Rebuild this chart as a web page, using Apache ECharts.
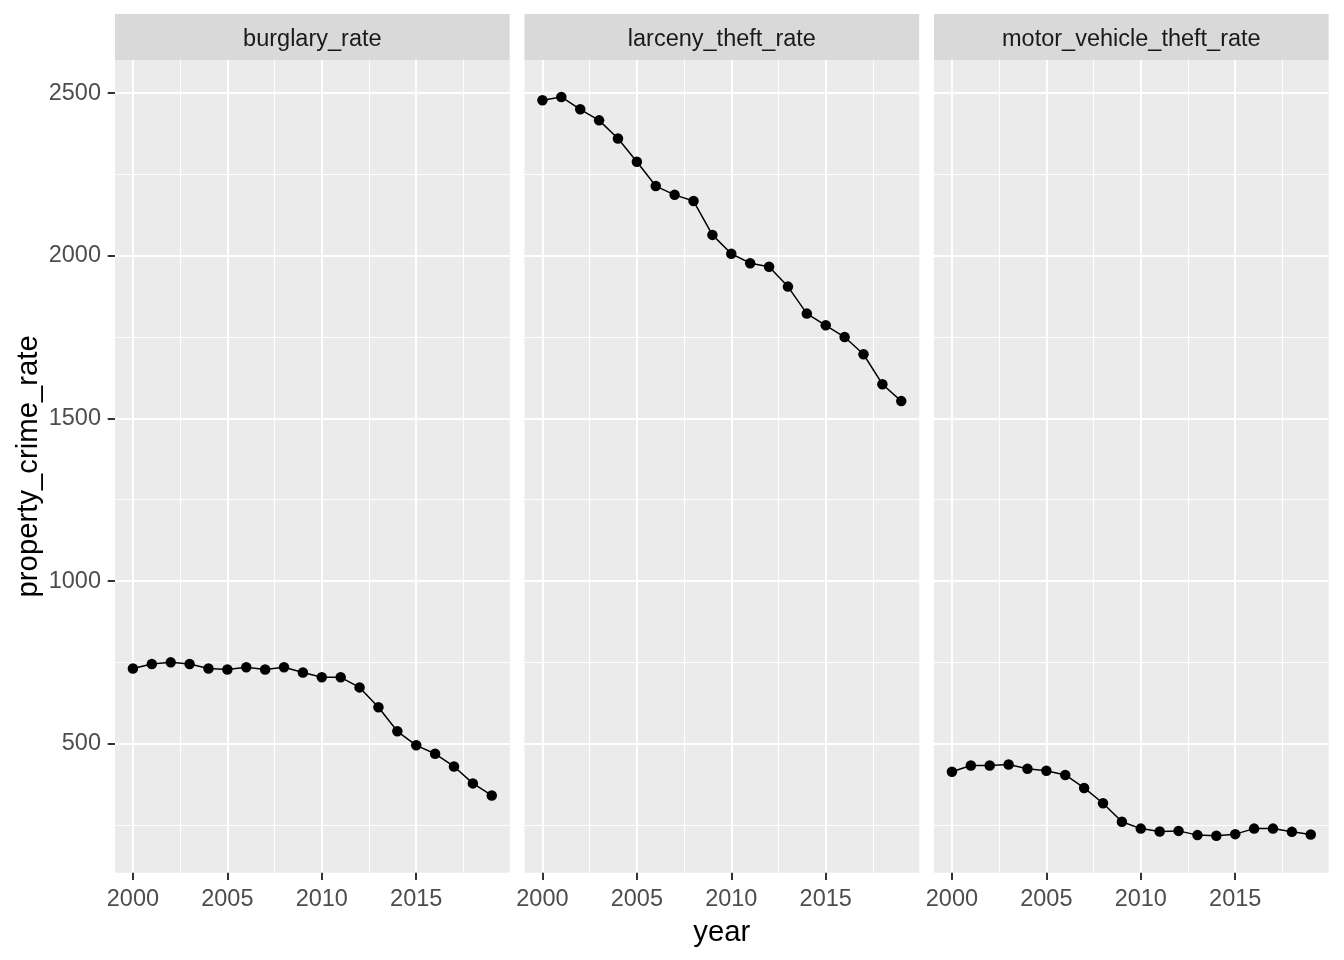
<!DOCTYPE html>
<html>
<head>
<meta charset="utf-8">
<script src="https://cdn.jsdelivr.net/npm/echarts@6/dist/echarts.min.js"></script>
<style>
  html, body { margin: 0; padding: 0; background: #fff; }
  #chart { width: 1344px; height: 960px; }
</style>
</head>
<body>
<div id="chart"></div>
<script>
// ---- data ----
const years = [2000, 2001, 2002, 2003, 2004, 2005, 2006, 2007, 2008, 2009,
               2010, 2011, 2012, 2013, 2014, 2015, 2016, 2017, 2018, 2019];
const burglaryRate = [731, 745, 750, 745, 731, 728, 735, 728, 735, 719,
                      704, 704, 673, 612, 538, 495, 469, 430, 378, 341];
const larcenyTheftRate = [2478, 2488, 2450, 2416, 2360, 2289, 2214, 2187, 2168, 2064,
                          2006, 1977, 1966, 1905, 1822, 1786, 1750, 1697, 1605, 1553];
const motorVehicleTheftRate = [414, 433, 433, 436, 423, 417, 404, 364, 317, 260,
                               239, 230, 232, 219, 217, 222, 239, 239, 229, 221];
const panelNames = ['burglary_rate', 'larceny_theft_rate', 'motor_vehicle_theft_rate'];
const xMajorTicks = [2000, 2005, 2010, 2015];
const xMinorTicks = [2002.5, 2007.5, 2012.5, 2017.5];
const yMajorTicks = [500, 1000, 1500, 2000, 2500];
const yMinorTicks = [250, 750, 1250, 1750, 2250];
const xTitle = 'year';
const yTitle = 'property_crime_rate';

// ---- layout / style ----
const FONT = 'Liberation Sans, Arial, sans-serif';
const panelValues = [burglaryRate, larcenyTheftRate, motorVehicleTheftRate];
const panelLefts = [115, 524.5, 934];
const panelWidth = 394.7;
const panelTop = 60;
const panelBottomFromEdge = 960 - 872.7;
const stripTop = 14, stripHeight = 46;

// ggplot-style 5% expansion computed from the data
const allVals = [].concat(...panelValues);
const yLo = Math.min(...allVals), yHi = Math.max(...allVals);
const yPad = (yHi - yLo) * 0.05;
const yMin = yLo - yPad, yMax = yHi + yPad;
const xLo = Math.min(...years), xHi = Math.max(...years);
const xPad = (xHi - xLo) * 0.05;
const xMin = xLo - xPad, xMax = xHi + xPad;

const grids = [], xAxes = [], yAxes = [], series = [], graphics = [];

panelValues.forEach((vals, i) => {
  grids.push({
    left: panelLefts[i], width: panelWidth, top: panelTop, bottom: panelBottomFromEdge,
    show: true, backgroundColor: '#EBEBEB', borderWidth: 0, containLabel: false
  });
  // major x axis
  xAxes.push({
    type: 'value', gridIndex: i, min: xMin, max: xMax,
    axisLine: { show: false },
    axisTick: { show: true, customValues: xMajorTicks, length: 7.3,
                lineStyle: { color: '#333333', width: 2 } },
    axisLabel: { show: true, customValues: xMajorTicks, formatter: v => String(v),
                 color: '#4D4D4D', fontSize: 23.5, fontFamily: FONT, margin: 15 },
    splitLine: { show: true, lineStyle: { color: '#FFFFFF', width: 2 } },
    name: i === 1 ? xTitle : '', nameLocation: 'middle', nameGap: 46,
    nameTextStyle: { color: '#000000', fontSize: 29.3, fontFamily: FONT }
  });
  // minor x axis (gridlines only)
  xAxes.push({
    type: 'value', gridIndex: i, min: xMin, max: xMax, position: 'bottom',
    axisLine: { show: false },
    axisTick: { show: false, customValues: xMinorTicks },
    axisLabel: { show: false, customValues: xMinorTicks },
    splitLine: { show: true, lineStyle: { color: '#FFFFFF', width: 1 } }
  });
  // major y axis
  yAxes.push({
    type: 'value', gridIndex: i, min: yMin, max: yMax,
    axisLine: { show: false },
    axisTick: { show: i === 0, customValues: yMajorTicks, length: 7.3,
                lineStyle: { color: '#333333', width: 2 } },
    axisLabel: { show: i === 0, customValues: yMajorTicks, formatter: v => String(v),
                 color: '#4D4D4D', fontSize: 23.5, fontFamily: FONT, margin: 14 },
    splitLine: { show: true, lineStyle: { color: '#FFFFFF', width: 2 } },
    name: i === 0 ? yTitle : '', nameLocation: 'middle', nameGap: 72,
    nameTextStyle: { color: '#000000', fontSize: 29.3, fontFamily: FONT }
  });
  // minor y axis (gridlines only)
  yAxes.push({
    type: 'value', gridIndex: i, min: yMin, max: yMax, position: 'left',
    axisLine: { show: false },
    axisTick: { show: false, customValues: yMinorTicks },
    axisLabel: { show: false, customValues: yMinorTicks },
    splitLine: { show: true, lineStyle: { color: '#FFFFFF', width: 1 } }
  });

  series.push({
    type: 'line', xAxisIndex: 2 * i, yAxisIndex: 2 * i, z: 5,
    data: years.map((y, k) => [y, vals[k]]),
    symbol: 'circle', symbolSize: 10.5, showSymbol: true,
    itemStyle: { color: '#000000' },
    lineStyle: { color: '#000000', width: 1.5 },
    animation: false, silent: true
  });

  // facet strip
  graphics.push({
    type: 'group', left: panelLefts[i], top: stripTop,
    children: [
      { type: 'rect', shape: { x: 0, y: 0, width: panelWidth, height: stripHeight },
        style: { fill: '#D9D9D9' } },
      { type: 'text', x: panelWidth / 2, y: stripHeight / 2 + 3,
        style: { text: panelNames[i], fill: '#1A1A1A', fontSize: 23.5, fontFamily: FONT,
                 align: 'center', verticalAlign: 'middle' } }
    ]
  });
});

const chart = echarts.init(document.getElementById('chart'), null, { renderer: 'canvas' });
chart.setOption({
  animation: false,
  backgroundColor: '#FFFFFF',
  grid: grids,
  xAxis: xAxes,
  yAxis: yAxes,
  series: series,
  graphic: graphics
});
</script>
</body>
</html>
